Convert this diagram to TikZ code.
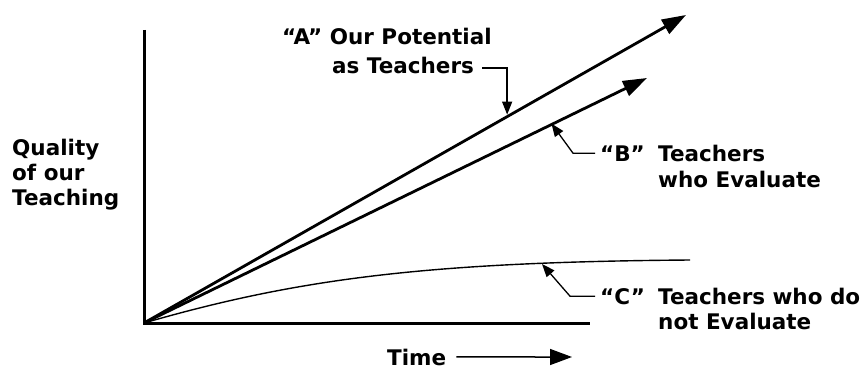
\documentclass[tikz,border=0pt]{standalone}
\usepackage{fontspec}
\setmainfont{DejaVu Sans}
\usetikzlibrary{arrows.meta,positioning,calc}

\begin{document}
\begin{tikzpicture}[
    x=1pt, y=-1pt,
    axis/.style={line width=3pt},
    trend/.style={line width=2.8pt,-{Triangle[length=24pt,width=16pt]}},
    flat/.style={line width=1.4pt},
    leader/.style={line width=1.3pt,-{Triangle[length=13pt,width=10pt]}},
    timeline/.style={line width=1.5pt,-{Triangle[length=22pt,width=16pt]}},
    lbl/.style={font=\bfseries\fontsize{21.5}{25}\selectfont,align=left,inner sep=0pt}
]
\useasboundingbox (0,0) rectangle (861,369);

% Axes
\coordinate (origin) at (144,323);
\coordinate (yTop) at (144,30);
\coordinate (xEnd) at (590,323);
\draw[axis] (yTop) |- (xEnd);

% Three lines
\coordinate (aEnd) at (686,15);
\coordinate (bEnd) at (647,78);
\coordinate (cEnd) at (690,260);
\draw[trend] (origin) -- (aEnd);
\draw[trend] (origin) -- (bEnd);
\draw[flat] (origin) .. controls (300,278) and (430,262) .. (cEnd);

\coordinate (aPt) at ($(origin)!0.67!(aEnd)$);
\coordinate (bPt) at ($(origin)!0.81!(bEnd)$);
\coordinate (cPt) at (542,263);

% Labels
\node[lbl, anchor=base west] (aLine1) at (282,45) {“A” Our Potential};
\node[lbl, anchor=base west] (aLine2) at (332,73) {as Teachers};
\draw[leader] ([shift={(8,-5)}]aLine2.base east) -| ([yshift=2pt]aPt);

\node[lbl, anchor=base west] (bTag) at (600,161) {“B”};
\node[lbl, anchor=base west, font=\bfseries\fontsize{21.5}{26}\selectfont] (bText) at (658,187) {Teachers\\who Evaluate};
\draw[leader] ([xshift=-5pt]bTag.west) -- ++(-22,0) -- ([yshift=1pt]bPt);

\node[lbl, anchor=base west] (cTag) at (600,304) {“C”};
\node[lbl, anchor=base west] (cText) at (658,329) {Teachers who do\\not Evaluate};
\draw[leader] ([xshift=-5pt]cTag.west) -- ++(-25,0) -- ([yshift=-1pt]cPt);

\node[lbl, anchor=base west] (quality) at (12,205) {Quality\\of our\\Teaching};

% Time axis label
\node[lbl, anchor=base west] (time) at (387,365) {Time};
\coordinate (timeEnd) at (572,357);
\draw[timeline] ([xshift=10pt]time.east) -- (timeEnd);

\end{tikzpicture}
\end{document}
